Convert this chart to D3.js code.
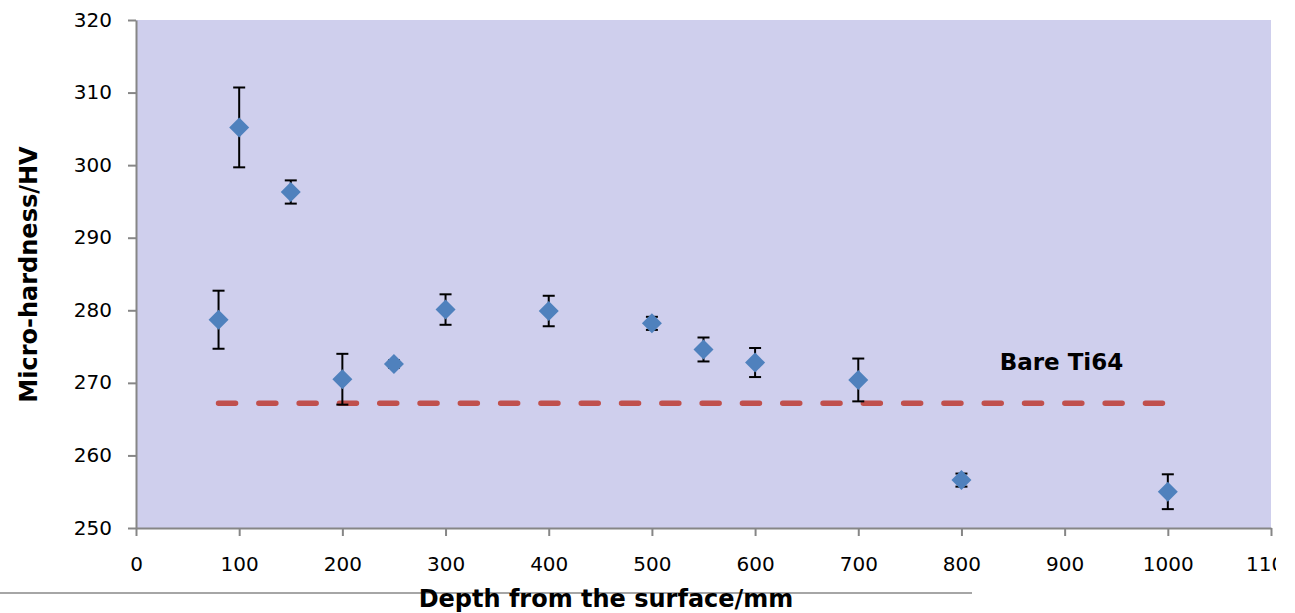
<!DOCTYPE html>
<html>
<head>
<meta charset="utf-8">
<script src="https://cdn.jsdelivr.net/npm/d3@7"></script>
<style>
  html, body { margin: 0; padding: 0; background: #ffffff; }
  svg { display: block; }
  text { font-family: "DejaVu Sans", sans-serif; }
</style>
</head>
<body>
<svg id="chart" width="1276" height="613"></svg>
<script>
// ---- data ----
const depths   = [80, 100, 150, 200, 250, 300, 400, 500, 550, 600, 700, 800, 1000];
const hardness = [278.7, 305.2, 296.3, 270.5, 272.6, 280.1, 279.9, 278.2, 274.6, 272.8, 270.4, 256.6, 255.0];
const errors   = [4.0, 5.5, 1.6, 3.5, 0.5, 2.1, 2.1, 0.9, 1.65, 2.0, 2.95, 0.9, 2.4];
const bareLevel = 267.2;
const bareRange = [80, 1000];
const xTicks = [0, 100, 200, 300, 400, 500, 600, 700, 800, 900, 1000, 1100];
const yTicks = [250, 260, 270, 280, 290, 300, 310, 320];
const xTitle = "Depth from the surface/mm";
const yTitle = "Micro-hardness/HV";
const bareLabel = "Bare Ti64";
const bareLabelPos = [837, 271.8];

// ---- layout ----
const svg = d3.select("#chart");
const x = d3.scaleLinear().domain([0, 1100]).range([136, 1271]);
const y = d3.scaleLinear().domain([250, 320]).range([528, 20]);

// plot background
svg.append("rect")
  .attr("x", x(0)).attr("y", y(320))
  .attr("width", x(1100) - x(0)).attr("height", y(250) - y(320))
  .attr("fill", "#CFCFED");

// bottom decorative rule
svg.append("line")
  .attr("x1", 0).attr("x2", 972).attr("y1", 593).attr("y2", 593)
  .attr("stroke", "#a6a6a6").attr("stroke-width", 2);

// axes
const axisColor = "#868686";
const xAxis = svg.append("g")
  .attr("transform", `translate(0,${y(250)})`)
  .call(d3.axisBottom(x).tickValues(xTicks).tickFormat(d3.format("d")).tickSize(8).tickSizeOuter(0));
xAxis.selectAll("text")
  .attr("y", 43).attr("dy", 0)
  .style("font-size", "20px").style("font-family", "'DejaVu Sans'").attr("fill", "#000");

const yAxis = svg.append("g")
  .attr("transform", `translate(${x(0)},0)`)
  .call(d3.axisLeft(y).tickValues(yTicks).tickFormat(d3.format("d")).tickSize(8).tickSizeOuter(0));
yAxis.selectAll("text")
  .attr("x", -24).attr("dy", 6)
  .style("font-size", "20px").style("font-family", "'DejaVu Sans'").attr("fill", "#000");

[xAxis, yAxis].forEach(g => {
  g.select(".domain").attr("stroke", axisColor).attr("stroke-width", 2);
  g.selectAll(".tick line").attr("stroke", axisColor).attr("stroke-width", 2);
});

// baseline dashed line (Bare Ti64)
svg.append("line")
  .attr("x1", x(bareRange[0])).attr("x2", x(bareRange[1]))
  .attr("y1", y(bareLevel)).attr("y2", y(bareLevel))
  .attr("stroke", "#C0504D").attr("stroke-width", 5.5)
  .attr("stroke-linecap", "round")
  .attr("stroke-dasharray", "17 23.3");

svg.append("text")
  .attr("x", x(bareLabelPos[0])).attr("y", y(bareLabelPos[1]))
  .style("font-size", "23px").attr("font-weight", "bold").attr("fill", "#000")
  .text(bareLabel);

// error bars
const pts = depths.map((d, i) => ({ x: d, y: hardness[i], e: errors[i] }));
const eb = svg.append("g").attr("stroke", "#000").attr("stroke-width", 2);
pts.forEach(p => {
  eb.append("line")
    .attr("x1", x(p.x)).attr("x2", x(p.x))
    .attr("y1", y(p.y + p.e)).attr("y2", y(p.y - p.e));
  [p.y + p.e, p.y - p.e].forEach(v => {
    eb.append("line")
      .attr("x1", x(p.x) - 6).attr("x2", x(p.x) + 6)
      .attr("y1", y(v)).attr("y2", y(v));
  });
});

// diamond markers
const diamond = d3.symbol().type(d3.symbolSquare).size(200);
svg.append("g").selectAll("path")
  .data(pts).join("path")
  .attr("d", diamond)
  .attr("transform", d => `translate(${x(d.x)},${y(d.y)}) rotate(45)`)
  .attr("fill", "#4F81BD");

// axis titles
svg.append("text")
  .attr("x", 606).attr("y", 607)
  .attr("text-anchor", "middle")
  .style("font-size", "24px").attr("font-weight", "bold").attr("fill", "#000")
  .text(xTitle);

svg.append("text")
  .attr("transform", "translate(37,274.5) rotate(-90)")
  .attr("text-anchor", "middle")
  .style("font-size", "24px").attr("font-weight", "bold").attr("fill", "#000")
  .text(yTitle);
</script>
</body>
</html>
